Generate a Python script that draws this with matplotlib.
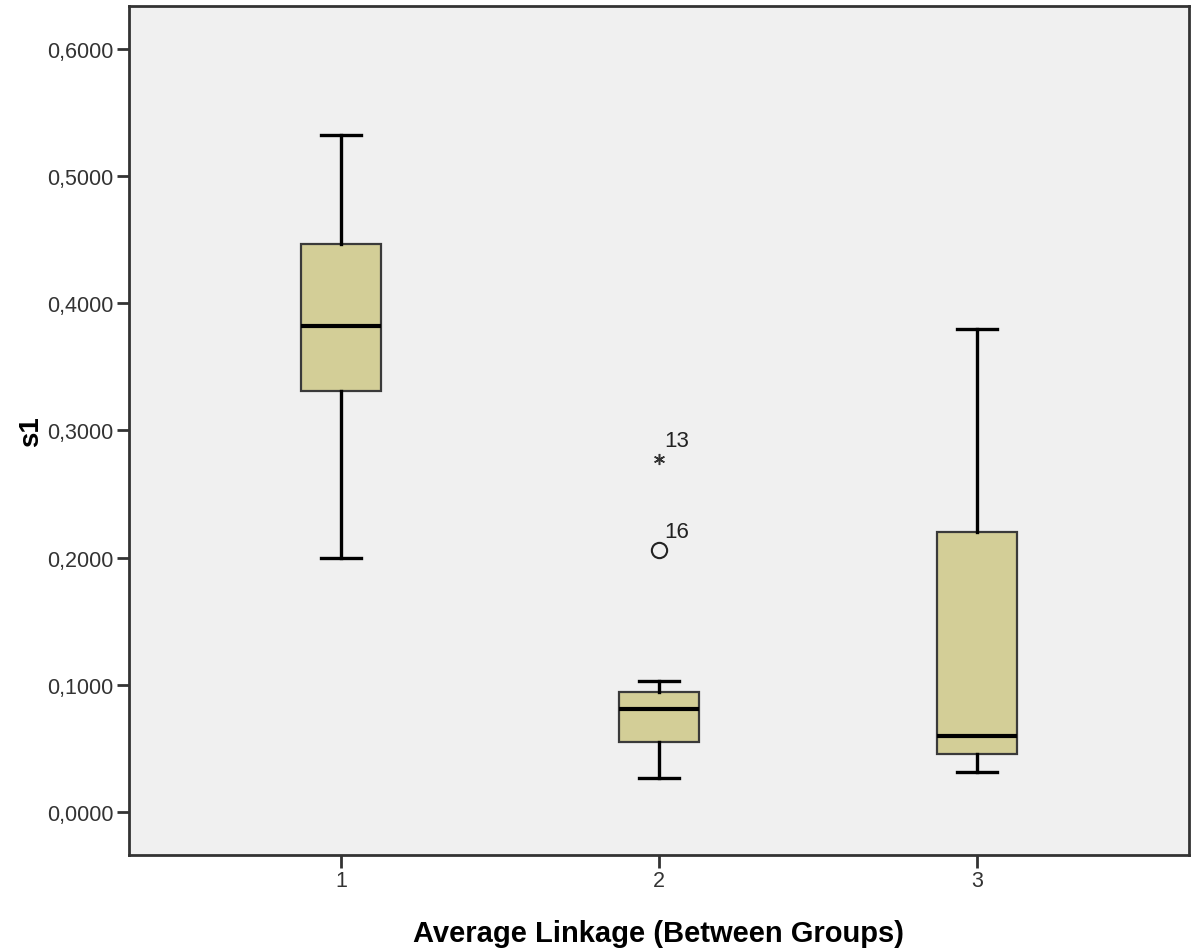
import matplotlib
matplotlib.use("Agg")
import matplotlib.pyplot as plt

plt.rcParams["font.family"] = ["Liberation Sans", "DejaVu Sans"]

# values
groups = ["1", "2", "3"]
whislo = [0.200, 0.0267, 0.0314]
q1 = [0.331, 0.055, 0.0456]
med = [0.382, 0.081, 0.0597]
q3 = [0.4465, 0.0943, 0.220]
whishi = [0.532, 0.103, 0.3797]

# outliers of group 2: (value, case number, kind)
out_vals = [0.2775, 0.206]
out_ids = ["13", "16"]
out_kind = ["extreme", "outlier"]

stats = []
for i, g in enumerate(groups):
    stats.append({"label": g, "whislo": whislo[i], "q1": q1[i], "med": med[i],
                  "q3": q3[i], "whishi": whishi[i], "fliers": []})

fig = plt.figure(figsize=(11.94, 9.53), dpi=100)
ax = fig.add_axes([0.108, 0.1018, 0.8878, 0.8909])
ax.set_facecolor("#f0f0f0")

pos = [1, 2, 3]
ax.bxp(stats, positions=pos, widths=0.25, patch_artist=True, showfliers=False,
       boxprops=dict(facecolor="#d3ce97", edgecolor="#3a3a3a", linewidth=1.6),
       medianprops=dict(color="black", linewidth=3),
       whiskerprops=dict(color="black", linewidth=2.4),
       capprops=dict(color="black", linewidth=2.4),
       capwidths=0.125)

for v, lab, kind in zip(out_vals, out_ids, out_kind):
    if kind == "extreme":
        ax.plot(2, v, marker=(6, 2, 0), ms=8, color="#333333", mew=1.1)
    else:
        ax.plot(2, v, marker="o", ms=11, mfc="none", mec="#222222", mew=1.5)
    ax.annotate(lab, (2, v), xytext=(4, 6), textcoords="offset points",
                fontsize=16, color="#222222", ha="left", va="bottom")

ax.set_xlim(0.333, 3.667)
ax.set_ylim(-0.0338, 0.6337)
ax.set_xticks(pos)
ax.set_xticklabels(groups)
yt = [0.0, 0.1, 0.2, 0.3, 0.4, 0.5, 0.6]
ax.set_yticks(yt)
ax.set_yticklabels([f"{t:.4f}".replace(".", ",") for t in yt])
ax.tick_params(direction="out", length=9, width=2, color="#333333",
               labelsize=15.5, labelcolor="#333333", pad=2)
for s in ax.spines.values():
    s.set_linewidth(2)
    s.set_color("#333333")

ax.set_xlabel("Average Linkage (Between Groups)", fontsize=21, fontweight="bold",
              labelpad=20)
ax.set_ylabel("s1", fontsize=20, fontweight="bold", labelpad=2)

fig.savefig("out.png", dpi=100)
